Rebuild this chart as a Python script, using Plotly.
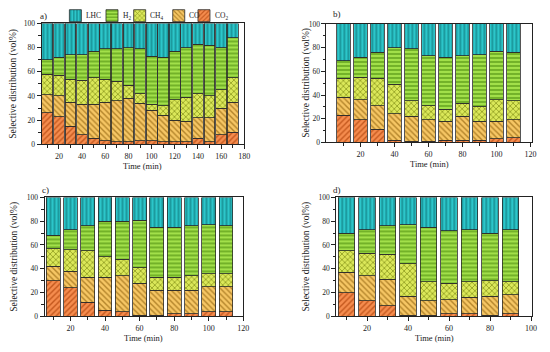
import plotly.graph_objects as go

W, H = 550, 352

# ---------------- data (vol%) ----------------
time_a = [10, 20, 30, 40, 50, 60, 70, 80, 90, 100, 110, 120, 130, 140, 150, 160, 170]
co2_a = [26, 23, 15, 8, 5, 3, 2, 2, 3, 3, 2, 2, 2, 5, 2, 8, 10]
co_a = [15, 17, 20, 25, 28, 32, 34, 36, 31, 25, 22, 18, 17, 17, 20, 22, 25]
ch4_a = [17, 17, 19, 20, 22, 19, 16, 11, 8, 5, 8, 17, 20, 20, 18, 15, 20]
h2_a = [12, 15, 20, 21, 22, 25, 27, 31, 37, 40, 40, 40, 41, 41, 42, 35, 33]
lhc_a = [30, 28, 26, 26, 23, 21, 21, 20, 21, 27, 28, 23, 20, 17, 18, 20, 12]

time_b = [10, 20, 30, 40, 50, 60, 70, 80, 90, 100, 110]
co2_b = [23, 19, 11, 2, 1, 1, 2, 2, 2, 3, 4]
co_b = [15, 17, 20, 22, 21, 18, 16, 20, 16, 15, 15]
ch4_b = [16, 19, 23, 25, 13, 12, 10, 11, 12, 18, 16]
h2_b = [15, 17, 22, 31, 44, 42, 44, 40, 44, 41, 41]
lhc_b = [31, 28, 24, 20, 21, 27, 28, 27, 26, 23, 24]

time_c = [10, 20, 30, 40, 50, 60, 70, 80, 90, 100, 110]
co2_c = [30, 24, 12, 5, 4, 1, 1, 2, 2, 4, 4]
co_c = [12, 14, 21, 28, 30, 27, 21, 20, 20, 21, 21]
ch4_c = [15, 18, 22, 17, 14, 13, 11, 11, 12, 11, 11]
h2_c = [11, 17, 21, 30, 32, 40, 42, 42, 42, 41, 40]
lhc_c = [32, 27, 24, 20, 20, 19, 25, 25, 24, 23, 24]

time_d = [10, 20, 30, 40, 50, 60, 70, 80, 90]
co2_d = [20, 13, 9, 1, 1, 2, 2, 1, 2]
co_d = [17, 21, 22, 16, 12, 12, 14, 16, 16]
ch4_d = [18, 19, 21, 27, 16, 14, 13, 13, 11]
h2_d = [15, 20, 24, 33, 46, 44, 44, 40, 44]
lhc_d = [30, 27, 24, 23, 25, 28, 27, 30, 27]

ticks_a = [20, 40, 60, 80, 100, 120, 140, 160, 180]
ticks_b = [20, 40, 60, 80, 100, 120]
ticks_c = [20, 40, 60, 80, 100, 120]
ticks_d = [20, 40, 60, 80, 100]
y_ticks = [0, 20, 40, 60, 80, 100]

series_names = ["CO<sub>2</sub>", "CO", "CH<sub>4</sub>", "H<sub>2</sub>", "LHC"]
panel_labels = ["a)", "b)", "c)", "d)"]
x_title = "Time (min)"
y_title = "Selective distribution (vol%)"

# ---------------- styles ----------------
styles = [
    dict(bg="#f58c4e", fg="#c4581e", shape="/"),    # CO2
    dict(bg="#f6c664", fg="#b3842a", shape="\\"),   # CO
    dict(bg="#dbe85a", fg="#8c9a1e", shape="x"),    # CH4
    dict(bg="#a2e04a", fg="#5e9e1a", shape="-"),    # H2
    dict(bg="#2cc6ca", fg="#14888c", shape="|"),    # LHC
]
# legend key box centre (px), order CO2, CO, CH4, H2, LHC
legend_box_x = [206, 180.5, 141, 113, 76]
legend_y = 12

panels = [
    dict(t=time_a, s=[co2_a, co_a, ch4_a, h2_a, lhc_a], xr=[5, 180], width=9.3, tv=ticks_a,
         px=(42, 247), py=(20, 144), xt_y=166, yt_x=14, lab=(38, 12)),
    dict(t=time_b, s=[co2_b, co_b, ch4_b, h2_b, lhc_b], xr=[0, 121], width=8.1, tv=ticks_b,
         px=(330, 538), py=(20.5, 142), xt_y=164, yt_x=310, lab=(335, 10)),
    dict(t=time_c, s=[co2_c, co_c, ch4_c, h2_c, lhc_c], xr=[5, 120], width=8.0, tv=ticks_c,
         px=(45, 246), py=(198.5, 320.5), xt_y=342.5, yt_x=15, lab=(40, 191)),
    dict(t=time_d, s=[co2_d, co_d, ch4_d, h2_d, lhc_d], xr=[5, 100.5], width=8.0, tv=ticks_d,
         px=(340, 538), py=(198.5, 320.5), xt_y=342.5, yt_x=310, lab=(335, 191)),
]

FONT = "Liberation Serif"
TXT = "#222"
fig = go.Figure()
layout = dict(
    width=W, height=H, margin=dict(l=0, r=0, t=0, b=0),
    paper_bgcolor="white", plot_bgcolor="white",
    barmode="stack", font=dict(family=FONT, size=8, color=TXT),
    showlegend=True,
)
annotations = []

# one single-entry legend per species so each key sits where the reference has it
for j in range(5):
    key = "legend" if j == 0 else f"legend{j + 1}"
    layout[key] = dict(
        x=(legend_box_x[j] - 20) / W, y=1 - legend_y / H, xanchor="left", yanchor="middle",
        font=dict(family=FONT, size=7.5, color=TXT), bgcolor="rgba(0,0,0,0)",
        borderwidth=0, itemwidth=30,
    )
    annotations.append(dict(text=series_names[j], x=(legend_box_x[j] + 9) / W,
                            y=1 - legend_y / H, xref="paper", yref="paper",
                            xanchor="left", yanchor="middle", showarrow=False,
                            font=dict(family=FONT, size=7.5, color=TXT)))

for i, p in enumerate(panels):
    k = i + 1
    xa = "x" if k == 1 else f"x{k}"
    ya = "y" if k == 1 else f"y{k}"
    for j, (name, vals) in enumerate(zip(series_names, p["s"])):
        st = styles[j]
        fig.add_trace(go.Bar(
            x=p["t"], y=vals, name=(" " if k == 1 else name), xaxis=xa, yaxis=ya,
            width=p["width"], showlegend=(k == 1),
            legend=("legend" if j == 0 else f"legend{j + 1}"),
            hovertemplate=name + ": %{y}<extra></extra>",
            marker=dict(color=st["bg"], line=dict(color="#2a2a2a", width=0.8),
                        pattern=dict(shape=st["shape"], fillmode="replace",
                                     bgcolor=st["bg"], fgcolor=st["fg"],
                                     size=4, solidity=0.35)),
        ))
    x0, x1 = p["px"]
    y0, y1 = p["py"]
    minor_x = [v - 10 for v in p["tv"]]
    layout[f"xaxis{'' if k == 1 else k}"] = dict(
        domain=[x0 / W, x1 / W], anchor=ya, range=p["xr"],
        tickmode="array", tickvals=p["tv"], ticks="outside", ticklen=4,
        tickwidth=1, tickcolor=TXT, showline=True, linecolor=TXT, linewidth=1,
        mirror=True, showgrid=False, zeroline=False,
        minor=dict(tickmode="array", tickvals=minor_x, ticks="outside", ticklen=3,
                   tickcolor=TXT, showgrid=False),
        tickfont=dict(family=FONT, size=8, color=TXT),
        fixedrange=True,
    )
    layout[f"yaxis{'' if k == 1 else k}"] = dict(
        domain=[1 - y1 / H, 1 - y0 / H], anchor=xa, range=[0, 100],
        tickmode="array", tickvals=y_ticks, ticks="outside", ticklen=4,
        tickwidth=1, tickcolor=TXT, showline=True, linecolor=TXT, linewidth=1,
        mirror=True, showgrid=False, zeroline=False,
        minor=dict(tickmode="array", tickvals=[v + 10 for v in y_ticks[:-1]],
                   ticks="outside", ticklen=2.5, tickcolor=TXT, showgrid=False),
        tickfont=dict(family=FONT, size=7.5, color=TXT),
        fixedrange=True,
    )
    annotations.append(dict(text=x_title, x=(x0 + x1) / 2 / W, y=1 - p["xt_y"] / H,
                            xref="paper", yref="paper", showarrow=False,
                            xanchor="center", yanchor="middle",
                            font=dict(family=FONT, size=8.5, color=TXT)))
    annotations.append(dict(text=y_title, x=p["yt_x"] / W, y=1 - (y0 + y1) / 2 / H,
                            xref="paper", yref="paper", showarrow=False, textangle=-90,
                            xanchor="center", yanchor="middle",
                            font=dict(family=FONT, size=9.5, color=TXT)))
    annotations.append(dict(text=panel_labels[i], x=p["lab"][0] / W, y=1 - p["lab"][1] / H,
                            xref="paper", yref="paper", showarrow=False,
                            xanchor="left", yanchor="middle",
                            font=dict(family=FONT, size=9, color=TXT)))

layout["annotations"] = annotations
fig.update_layout(**layout)
fig.write_html("out.html", config={"displayModeBar": False},
               post_script="document.body.style.margin='0';document.body.style.overflow='hidden';")
